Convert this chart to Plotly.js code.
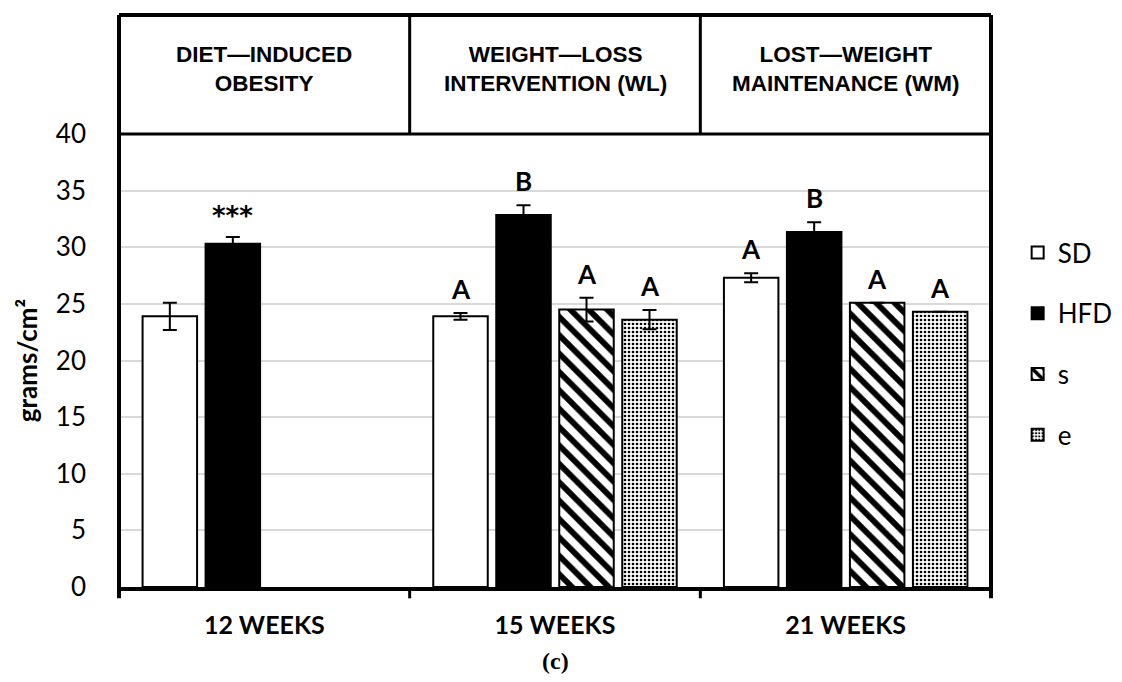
<!DOCTYPE html>
<html>
<head>
<meta charset="utf-8">
<script src="https://cdn.plot.ly/plotly-3.0.1.min.js"></script>
<style>html,body{margin:0;padding:0;background:#fff;}#chart{width:1122px;height:682px;}</style>
</head>
<body>
<div id="chart"></div>
<script>
// ---- data ----
const categories = ["12 WEEKS", "15 WEEKS", "21 WEEKS"];
const phases = ["DIET\u2014INDUCED<br>OBESITY", "WEIGHT\u2014LOSS<br>INTERVENTION (WL)", "LOST\u2014WEIGHT<br>MAINTENANCE (WM)"];
const seriesNames = ["SD", "HFD", "s", "e"];
const sdValues  = [23.9, 23.9, 27.3];
const sdErr     = [1.2, 0.3, 0.4];
const hfdValues = [30.3, 32.85, 31.35];
const hfdErr    = [0.6, 0.85, 0.85];
const sValues   = [null, 24.5, 25.1];
const sErr      = [null, 1.05, null];
const eValues   = [null, 23.6, 24.3];
const eErr      = [null, 0.85, null];
const sdLabels  = ["", "A", "A"];
const hfdLabels = ["***", "B", "B"];
const sLabels   = ["", "A", "A"];
const eLabels   = ["", "A", "A"];
const yTicks = [0, 5, 10, 15, 20, 25, 30, 35, 40];

// ---- styling ----
const BARGAP = 0.133, GROUPGAP = 0.135;
const tickFont = "Lato, 'Noto Sans', sans-serif";
const values = [sdValues, hfdValues, sValues, eValues];
const errs = [sdErr, hfdErr, sErr, eErr];
const labels = [sdLabels, hfdLabels, sLabels, eLabels];
const markers = [
  {color: "white", line: {color: "black", width: 2}},
  {color: "black", line: {color: "black", width: 2}},
  {color: "white", line: {color: "black", width: 2},
   pattern: {shape: "\\", fgcolor: "black", bgcolor: "white", size: 13, solidity: 0.45}},
  {color: "white", line: {color: "black", width: 2},
   pattern: {shape: ".", fgcolor: "black", bgcolor: "white", size: 4, solidity: 0.35}}
];
const xIdx = categories.map((c, i) => i);

const traces = seriesNames.map((name, k) => ({
  type: "bar",
  name: name,
  x: xIdx,
  y: values[k],
  marker: markers[k],
  legendgroup: name,
  error_y: {type: "data", array: errs[k], visible: true, color: "black", thickness: 2, width: 7},
  hoverinfo: "none"
}));

const slot = (1 - BARGAP) / seriesNames.length;
const annotations = [];
labels.forEach((lab, k) => {
  lab.forEach((t, i) => {
    if (!t) return;
    const top = values[k][i] + (errs[k][i] || 0);
    const stars = t.indexOf("*") >= 0;
    annotations.push({
      x: i + (k - (seriesNames.length - 1) / 2) * slot, xref: "x",
      y: top, yref: "y", yanchor: "bottom", yshift: stars ? 4 : 6,
      text: "<b>" + t + "</b>", showarrow: false,
      font: {family: stars ? "'DejaVu Sans', sans-serif" : tickFont, size: 26, color: "black"}
    });
  });
});
// header phase titles
const headerTop = (587 - 15) / 453;
phases.forEach((p, i) => {
  annotations.push({
    x: i, xref: "x", y: (1 + headerTop) / 2 + 5 / 453, yref: "paper", yanchor: "middle",
    text: "<b>" + p + "</b>", showarrow: false,
    font: {family: "'Liberation Sans', Arial, sans-serif", size: 22.5, color: "black"}
  });
});
annotations.push({
  x: 0.5, xref: "paper", y: -0.163, yref: "paper", yanchor: "middle",
  text: "<b>(c)</b>", showarrow: false,
  font: {family: "'Liberation Serif', serif", size: 24, color: "black"}
});

const shapes = [
  {type: "line", xref: "paper", yref: "paper", x0: 0, x1: 1, y0: headerTop, y1: headerTop, line: {color: "black", width: 4}},
  {type: "line", xref: "paper", yref: "paper", x0: 0, x1: 1, y0: 1, y1: 1, line: {color: "black", width: 3}},
  {type: "line", xref: "paper", yref: "paper", x0: 0, x1: 0, y0: -0.025, y1: headerTop, line: {color: "black", width: 4}},
  {type: "line", xref: "paper", yref: "paper", x0: 1, x1: 1, y0: -0.025, y1: headerTop, line: {color: "black", width: 4}},
  {type: "line", xref: "x", yref: "paper", x0: 0.5, x1: 0.5, y0: 1, y1: headerTop, line: {color: "black", width: 3}},
  {type: "line", xref: "x", yref: "paper", x0: 1.5, x1: 1.5, y0: 1, y1: headerTop, line: {color: "black", width: 3}}
];
// boundary tick marks on the x axis (category boundaries)
[0.5, 1.5].forEach(b => shapes.push({type: "line", xref: "x", yref: "paper", x0: b, x1: b, y0: 0, y1: -0.025, line: {color: "black", width: 3}}));

const layout = {
  width: 1122, height: 682,
  margin: {l: 119, r: 131, t: 134, b: 95},
  paper_bgcolor: "white", plot_bgcolor: "white",
  barmode: "group", bargap: BARGAP, bargroupgap: GROUPGAP,
  showlegend: true,
  legend: {
    xref: "container", yref: "container",
    x: 0.907, xanchor: "left", y: (682 - 344) / 682, yanchor: "middle",
    font: {family: tickFont, size: 26, color: "black"},
    tracegroupgap: 24, traceorder: "grouped", itemwidth: 30
  },
  xaxis: {
    type: "linear", range: [-0.5, 2.5],
    tickvals: xIdx, ticktext: categories.map(c => "<b>" + c + "</b>"),
    showgrid: false, zeroline: false,
    showline: true, linecolor: "black", linewidth: 4,
    ticks: "", ticklabelstandoff: 13,
    tickfont: {family: tickFont, size: 25, color: "black"}
  },
  yaxis: {
    range: [0, 40], tickvals: yTicks,
    showgrid: true, gridcolor: "#d9d9d9", gridwidth: 2,
    zeroline: false, showline: false,
    ticks: "", ticklabelstandoff: 32,
    tickfont: {family: tickFont, size: 26, color: "black"},
    title: {text: "<b>grams/cm\u00b2</b>", standoff: 10, font: {family: tickFont, size: 26, color: "black"}}
  },
  shapes: shapes,
  annotations: annotations
};

Plotly.newPlot("chart", traces, layout, {displayModeBar: false, staticPlot: true});
</script>
</body>
</html>
